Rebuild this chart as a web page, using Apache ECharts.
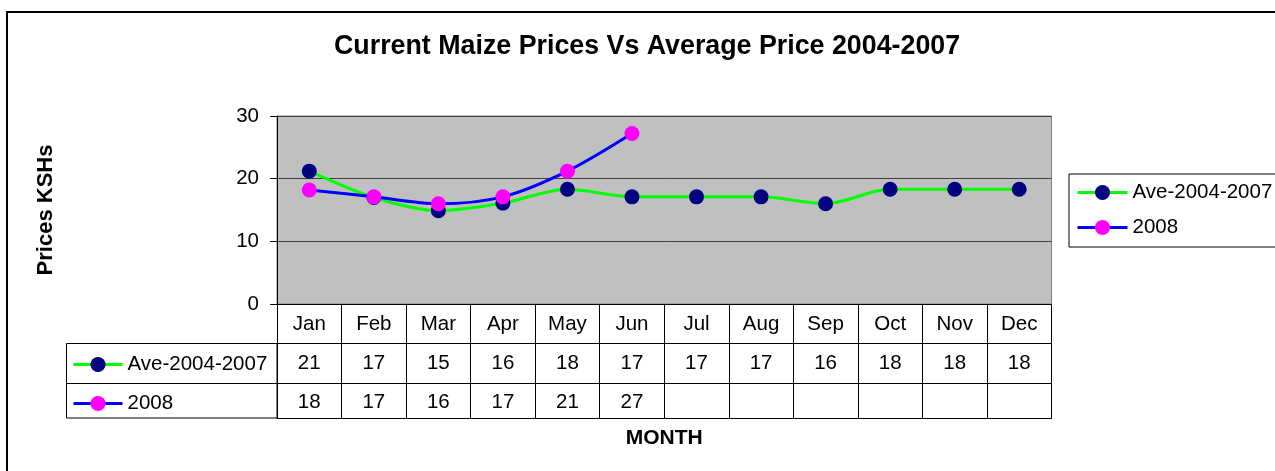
<!DOCTYPE html>
<html>
<head>
<meta charset="utf-8">
<script src="https://cdn.jsdelivr.net/npm/echarts@6/dist/echarts.min.js"></script>
<style>
html,body{margin:0;padding:0;background:#fff;}
#chart{width:1275px;height:471px;}
</style>
</head>
<body>
<div id="chart"></div>
<script>
const months = ['Jan','Feb','Mar','Apr','May','Jun','Jul','Aug','Sep','Oct','Nov','Dec'];
const aveValues = [21.2, 17.0, 14.9, 16.1, 18.3, 17.1, 17.1, 17.1, 16.0, 18.3, 18.3, 18.3];
const values2008 = [18.2, 17.1, 16.0, 17.1, 21.2, 27.2];
const seriesNames = ['Ave-2004-2007', '2008'];
const FONT = '"Liberation Sans", Arial, sans-serif';

const chart = echarts.init(document.getElementById('chart'), null, {renderer: 'canvas'});

function cell(arr) {
  return function (v, i) {
    const x = arr[i];
    return (x === undefined || x === null) ? '' : String(Math.round(x));
  };
}

const option = {
  animation: false,
  backgroundColor: '#fff',
  title: {
    text: 'Current Maize Prices Vs Average Price 2004-2007',
    left: 334, top: 33, padding: 0,
    textStyle: {fontFamily: FONT, fontSize: 26.8, fontWeight: 'bold', color: '#000'}
  },
  grid: {
    left: 277, top: 116, right: 223.5, bottom: 167,
    show: true, backgroundColor: '#C0C0C0', borderColor: '#808080', borderWidth: 1
  },
  legend: [
    {
      data: seriesNames,
      left: 1069, top: 174, orient: 'vertical',
      itemWidth: 50, itemHeight: 19, itemGap: 14,
      padding: [8, 10, 9, 7],
      borderColor: '#000', borderWidth: 1,
      lineStyle: {width: 3},
      textStyle: {fontFamily: FONT, fontSize: 20.5, color: '#000'}
    },
    {
      data: seriesNames,
      left: 72, top: 354, orient: 'vertical',
      itemWidth: 49, itemHeight: 19, itemGap: 18,
      padding: 0,
      lineStyle: {width: 3},
      textStyle: {fontFamily: FONT, fontSize: 20.5, color: '#000'}
    }
  ],
  xAxis: [
    {
      type: 'category', data: months, position: 'bottom', offset: 0,
      axisLine: {show: true, lineStyle: {color: '#000', width: 1}},
      axisTick: {show: true, interval: 0, length: 114, lineStyle: {color: '#000', width: 1}},
      axisLabel: {interval: 0, margin: 10, fontFamily: FONT, fontSize: 20.5, color: '#000'}
    },
    {
      type: 'category', data: months, position: 'bottom', offset: 39,
      axisLine: {show: true, lineStyle: {color: '#000', width: 1}},
      axisTick: {show: false},
      axisLabel: {interval: 0, margin: 10, fontFamily: FONT, fontSize: 20.5, color: '#000', formatter: cell(aveValues)}
    },
    {
      type: 'category', data: months, position: 'bottom', offset: 79,
      axisLine: {show: true, lineStyle: {color: '#000', width: 1}},
      axisTick: {show: false},
      axisLabel: {interval: 0, margin: 9, fontFamily: FONT, fontSize: 20.5, color: '#000', formatter: cell(values2008)}
    },
    {
      type: 'category', data: months, position: 'bottom', offset: 114,
      axisLine: {show: true, lineStyle: {color: '#000', width: 1}},
      axisTick: {show: false},
      axisLabel: {show: false},
      name: 'MONTH', nameLocation: 'middle', nameGap: 10,
      nameTextStyle: {fontFamily: FONT, fontSize: 21, fontWeight: 'bold', color: '#000'}
    }
  ],
  yAxis: {
    type: 'value', min: 0, max: 30, interval: 10,
    axisLine: {show: true, lineStyle: {color: '#000', width: 1}},
    axisTick: {show: true, length: 7, lineStyle: {color: '#000'}},
    axisLabel: {margin: 18, fontFamily: FONT, fontSize: 20.5, color: '#000'},
    splitLine: {show: true, lineStyle: {color: '#404040', width: 1}},
    name: 'Prices KSHs', nameLocation: 'middle', nameGap: 220,
    nameTextStyle: {fontFamily: FONT, fontSize: 22, fontWeight: 'bold', color: '#000'}
  },
  series: [
    {
      name: seriesNames[0], type: 'line', data: aveValues,
      smooth: 0.3, symbol: 'circle', symbolSize: 15,
      lineStyle: {color: '#00FF00', width: 3},
      itemStyle: {color: '#000080'}
    },
    {
      name: seriesNames[1], type: 'line', data: values2008,
      smooth: 0.3, symbol: 'circle', symbolSize: 15,
      lineStyle: {color: '#0000FF', width: 3},
      itemStyle: {color: '#FF00FF'}
    }
  ],
  graphic: [
    {type: 'rect', z: 100, silent: true, shape: {x: 7, y: 12, width: 1300, height: 500},
     style: {fill: 'none', stroke: '#000', lineWidth: 2}},
    {type: 'rect', z: 100, silent: true, shape: {x: 66.5, y: 343.5, width: 210.5, height: 74.5},
     style: {fill: 'none', stroke: '#000', lineWidth: 1}},
    {type: 'line', z: 100, silent: true, shape: {x1: 66.5, y1: 383.5, x2: 277, y2: 383.5},
     style: {stroke: '#000', lineWidth: 1}}
  ]
};
chart.setOption(option);
</script>
</body>
</html>
